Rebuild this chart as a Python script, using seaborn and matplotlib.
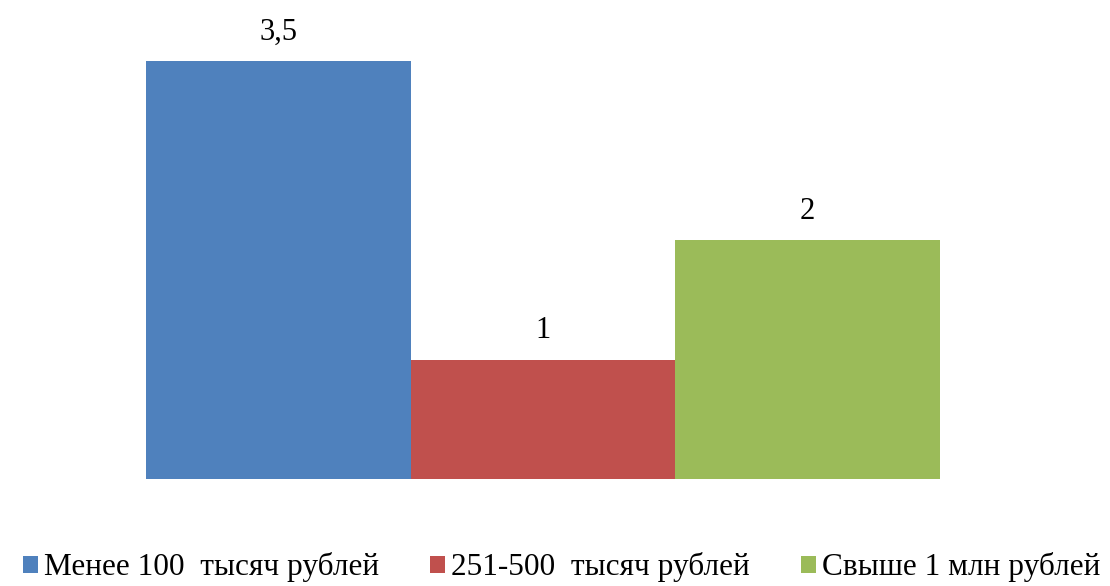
import matplotlib
matplotlib.use("Agg")
import matplotlib.pyplot as plt
import seaborn as sns
import pandas as pd

categories = ["Менее 100  тысяч рублей", "251-500  тысяч рублей", "Свыше 1 млн рублей"]
values = [3.5, 1, 2]
value_labels = ["3,5", "1", "2"]
colors = ["#4F81BD", "#C0504D", "#9BBB59"]

sns.set_theme(style="white")
plt.rcParams["font.family"] = ["Liberation Serif", "DejaVu Serif"]
plt.rcParams["text.color"] = "black"

df = pd.DataFrame({"cat": categories, "val": values})

fig = plt.figure(figsize=(11.10, 5.86), dpi=100)
ax = fig.add_axes([146/1110, 1 - 479/586, (940-146)/1110, 478/586])
sns.barplot(data=df, x="cat", y="val", hue="cat", palette=colors, width=1.0,
            dodge=False, legend=False, ax=ax, saturation=1, linewidth=0, edgecolor="none")
ax.set_xlim(-0.5, 2.5)
ax.set_ylim(0, 4)
ax.axis("off")

for i, (v, lab) in enumerate(zip(values, value_labels)):
    ax.text(i, v + 0.12, lab, ha="center", va="bottom", fontsize=22, color="black")

from matplotlib.patches import Patch
handles = [Patch(facecolor=c, edgecolor="none") for c in colors]
leg = fig.legend(handles, categories, loc="lower center", bbox_to_anchor=(0.506, -0.042), ncol=3,
                 frameon=False, fontsize=22.5, handlelength=0.48, handleheight=0.48,
                 handletextpad=0.2, columnspacing=1.63)
for t in leg.get_texts():
    t.set_color("black")

fig.savefig("out.png", dpi=100)
